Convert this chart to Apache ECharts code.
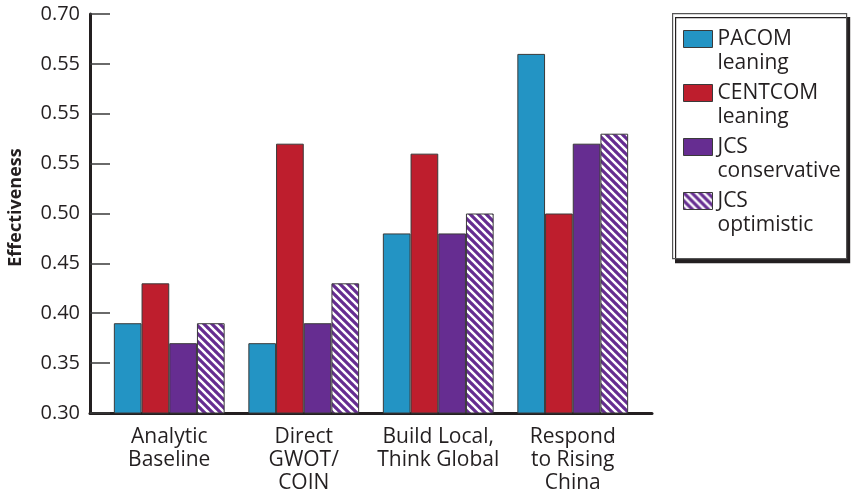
<!DOCTYPE html>
<html><head><meta charset="utf-8">
<script src="https://cdn.jsdelivr.net/npm/echarts@6/dist/echarts.min.js"></script>
<style>html,body{margin:0;padding:0;background:#fff}#c{width:852px;height:496px}</style>
</head><body><div id="c"></div>
<script>
const categories = ['Analytic\nBaseline', 'Direct\nGWOT/\nCOIN', 'Build Local,\nThink Global', 'Respond\nto Rising\nChina'];
const seriesNames = ['PACOM\nleaning', 'CENTCOM\nleaning', 'JCS\nconservative', 'JCS\noptimistic'];
const pacom = [0.39, 0.37, 0.48, 0.66];
const centcom = [0.43, 0.57, 0.56, 0.50];
const jcsConservative = [0.37, 0.39, 0.48, 0.57];
const jcsOptimistic = [0.39, 0.43, 0.50, 0.58];
const tickLabels = ['0.30', '0.35', '0.40', '0.45', '0.50', '0.55', '0.55', '0.55', '0.70'];

const FONT = '"Open Sans", "Noto Sans", sans-serif';
const AX = '#231f20';
const TXT = '#231f20';

function stripe() {
  const c = document.createElement('canvas');
  const s = 8;
  c.width = s; c.height = s;
  const g = c.getContext('2d');
  g.fillStyle = '#fff'; g.fillRect(0, 0, s, s);
  g.strokeStyle = '#662d91'; g.lineWidth = 3.2;
  g.beginPath();
  for (let k = -1; k <= 1; k++) {
    g.moveTo(k * s - 1, -1); g.lineTo(k * s + s + 1, s + 1);
  }
  g.stroke();
  return c;
}

const chart = echarts.init(document.getElementById('c'), null, {renderer: 'canvas'});
const colors = ['#2394c4', '#be1e2d', '#662d91', {image: stripe(), repeat: 'repeat'}];
const dataSets = [pacom, centcom, jcsConservative, jcsOptimistic];

chart.setOption({
  animation: false,
  grid: [
    {left: 90, right: 200, top: 14, bottom: 83, outerBoundsMode: 'none'},
    {left: 102, right: 212, top: 14, bottom: 83, outerBoundsMode: 'none'}
  ],
  graphic: [{
    type: 'rect', z: 1, left: 672, top: 13,
    shape: {width: 174, height: 245},
    style: {fill: '#fff', stroke: '#555', lineWidth: 1.2,
            shadowColor: '#231f20', shadowOffsetX: 3, shadowOffsetY: 4, shadowBlur: 0}
  }],
  xAxis: [
    {gridIndex: 0, type: 'value', min: 0, max: 1,
     axisLine: {show: true, onZero: false, lineStyle: {color: AX, width: 3}},
     axisTick: {show: false}, axisLabel: {show: false}, splitLine: {show: false}},
    {gridIndex: 1, type: 'category', data: categories, axisLine: {show: false}, axisTick: {show: false},
     axisLabel: {fontFamily: FONT, fontSize: 21, color: TXT, lineHeight: 23, margin: 13, interval: 0}}
  ],
  yAxis: [
    {gridIndex: 0, type: 'value', min: 0.30, max: 0.70, interval: 0.05,
     name: 'Effectiveness', nameLocation: 'middle', nameGap: 65, nameRotate: 90, nameMoveOverlap: false,
     nameTextStyle: {fontFamily: FONT, fontSize: 18, fontWeight: 'bold', color: TXT, padding: [0, 0, 0, 12]},
     axisLine: {show: true, onZero: false, lineStyle: {color: AX, width: 3}},
     axisTick: {show: true, inside: true, length: 20, lineStyle: {color: '#3a3a3a', width: 1.5}},
     axisLabel: {fontFamily: FONT, fontSize: 20, color: TXT, margin: 10,
       formatter: v => tickLabels[Math.round((v - 0.30) / 0.05)]},
     splitLine: {show: false}},
    {gridIndex: 1, type: 'value', min: 0.30, max: 0.70, interval: 0.05, show: false, splitLine: {show: false}}
  ],
  legend: {
    orient: 'vertical', left: 683, top: 3, z: 10,
    padding: 0, itemGap: -18, itemWidth: 29, itemHeight: 17, icon: 'rect',
    itemStyle: {borderColor: '#3a3a3a', borderWidth: 1},
    formatter: name => '\n' + name,
    textStyle: {fontFamily: FONT, fontSize: 21, color: TXT, lineHeight: 24},
    data: seriesNames
  },
  series: dataSets.map((d, i) => ({
    name: seriesNames[i], type: 'bar', xAxisIndex: 1, yAxisIndex: 1,
    data: d, barWidth: 27.7, barGap: '0%',
    itemStyle: {color: colors[i], borderColor: '#3a3a3a', borderWidth: 1}
  }))
});
</script></body></html>
